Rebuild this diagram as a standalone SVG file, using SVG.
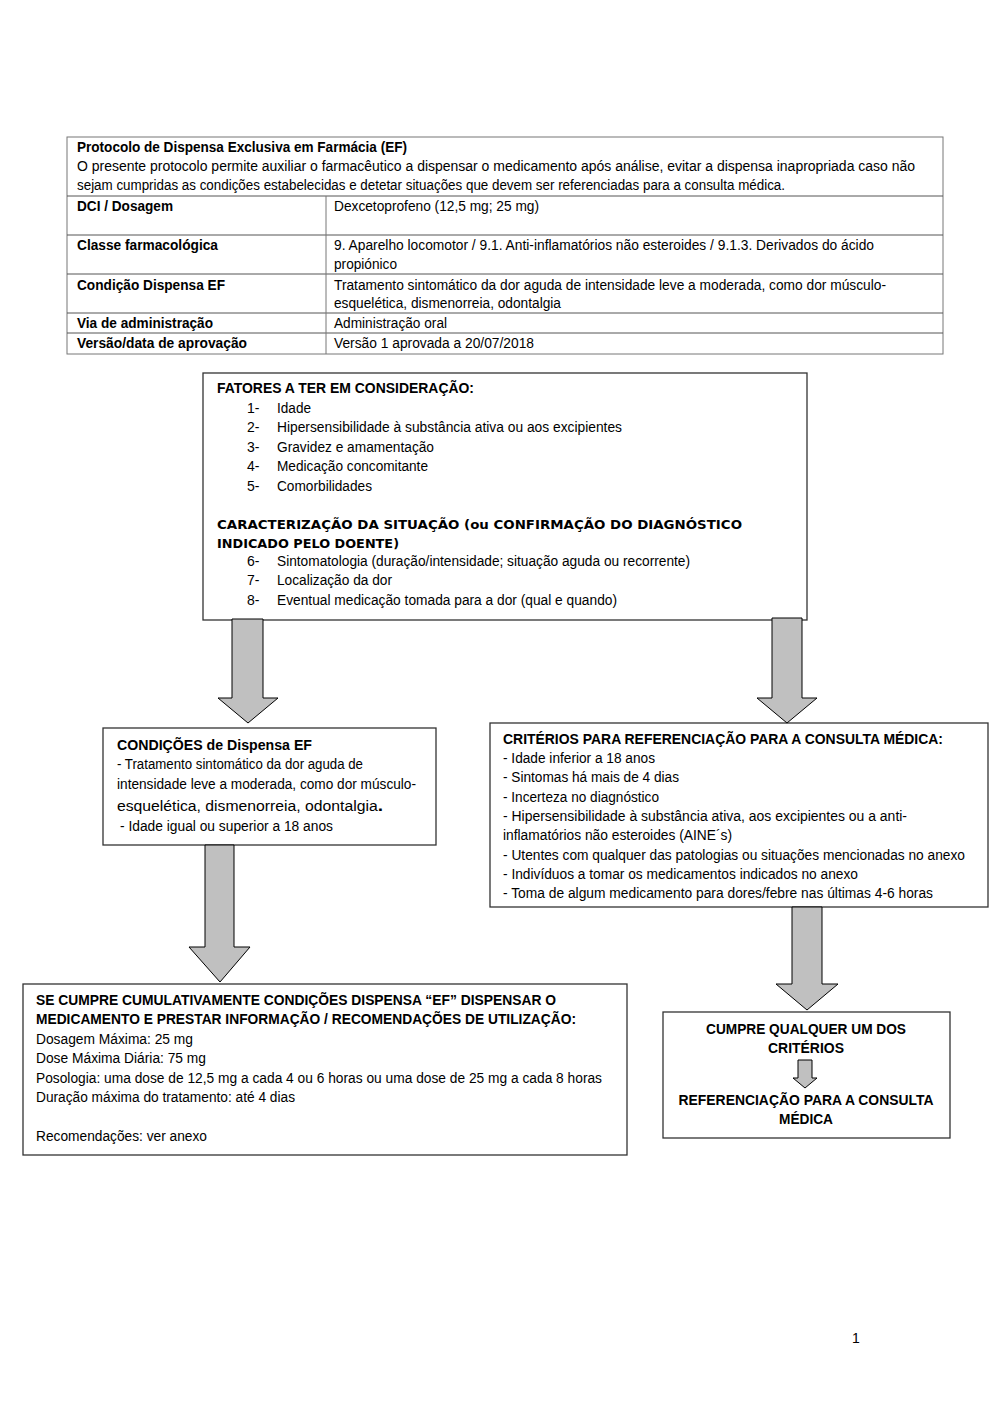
<svg xmlns="http://www.w3.org/2000/svg" width="1000" height="1414" viewBox="0 0 1000 1414">
<style>
text{font-family:"Liberation Sans",Arial,sans-serif;font-size:14px;fill:#000}
.b{font-weight:bold}
.g{font-family:"DejaVu Sans","Liberation Sans",sans-serif;font-weight:bold;font-size:13px}
.box{fill:#fff;stroke:#333;stroke-width:1.3}
.tl{stroke:#555;stroke-width:1;fill:none}
.arr{fill:#c0c0c0;stroke:#000;stroke-width:1}
.c{text-anchor:middle}
</style>
<defs>
<clipPath id="clipCrit"><rect x="490" y="723" width="498" height="183"/></clipPath>
</defs>
<rect width="1000" height="1414" fill="#fff"/>

<g id="table">
<rect class="tl" x="67" y="137" width="876" height="217" style="stroke:#777"/>
<line class="tl" x1="67" y1="196" x2="943" y2="196"/>
<line class="tl" x1="67" y1="235" x2="943" y2="235"/>
<line class="tl" x1="67" y1="274" x2="943" y2="274"/>
<line class="tl" x1="67" y1="313" x2="943" y2="313"/>
<line class="tl" x1="67" y1="333" x2="943" y2="333"/>
<line class="tl" x1="326" y1="196" x2="326" y2="354" style="stroke:#777"/>
<text class="b" x="77" y="152" textLength="330" lengthAdjust="spacingAndGlyphs">Protocolo de Dispensa Exclusiva em Farmácia (EF)</text>
<text x="77" y="171" textLength="838" lengthAdjust="spacingAndGlyphs">O presente protocolo permite auxiliar o farmacêutico a dispensar o medicamento após análise, evitar a dispensa inapropriada caso não</text>
<text x="77" y="190" textLength="708" lengthAdjust="spacingAndGlyphs">sejam cumpridas as condições estabelecidas e detetar situações que devem ser referenciadas para a consulta médica.</text>
<text class="b" x="77" y="211" textLength="96" lengthAdjust="spacingAndGlyphs">DCI / Dosagem</text>
<text x="334" y="211" textLength="205" lengthAdjust="spacingAndGlyphs">Dexcetoprofeno (12,5 mg; 25 mg)</text>
<text class="b" x="77" y="250" textLength="141" lengthAdjust="spacingAndGlyphs">Classe farmacológica</text>
<text x="334" y="250" textLength="540" lengthAdjust="spacingAndGlyphs">9. Aparelho locomotor / 9.1. Anti-inflamatórios não esteroides / 9.1.3. Derivados do ácido</text>
<text x="334" y="269" textLength="63" lengthAdjust="spacingAndGlyphs">propiónico</text>
<text class="b" x="77" y="290" textLength="148" lengthAdjust="spacingAndGlyphs">Condição Dispensa EF</text>
<text x="334" y="290" textLength="552" lengthAdjust="spacingAndGlyphs">Tratamento sintomático da dor aguda de intensidade leve a moderada, como dor músculo-</text>
<text x="334" y="308" textLength="227" lengthAdjust="spacingAndGlyphs">esquelética, dismenorreia, odontalgia</text>
<text class="b" x="77" y="328" textLength="136" lengthAdjust="spacingAndGlyphs">Via de administração</text>
<text x="334" y="328" textLength="113" lengthAdjust="spacingAndGlyphs">Administração oral</text>
<text class="b" x="77" y="348" textLength="170" lengthAdjust="spacingAndGlyphs">Versão/data de aprovação</text>
<text x="334" y="348" textLength="200" lengthAdjust="spacingAndGlyphs">Versão 1 aprovada a 20/07/2018</text>
</g>

<g id="fatores">
<rect class="box" x="203" y="373" width="604" height="247"/>
<text class="b" x="217" y="393" textLength="257" lengthAdjust="spacingAndGlyphs">FATORES A TER EM CONSIDERAÇÃO:</text>
<text x="247" y="413">1-</text><text x="277" y="413" textLength="34" lengthAdjust="spacingAndGlyphs">Idade</text>
<text x="247" y="432">2-</text><text x="277" y="432" textLength="345" lengthAdjust="spacingAndGlyphs">Hipersensibilidade à substância ativa ou aos excipientes</text>
<text x="247" y="452">3-</text><text x="277" y="452" textLength="157" lengthAdjust="spacingAndGlyphs">Gravidez e amamentação</text>
<text x="247" y="471">4-</text><text x="277" y="471" textLength="151" lengthAdjust="spacingAndGlyphs">Medicação concomitante</text>
<text x="247" y="491">5-</text><text x="277" y="491" textLength="95" lengthAdjust="spacingAndGlyphs">Comorbilidades</text>
<text class="g" x="217" y="529" textLength="525" lengthAdjust="spacingAndGlyphs">CARACTERIZAÇÃO DA SITUAÇÃO (ou CONFIRMAÇÃO DO DIAGNÓSTICO</text>
<text class="g" x="217" y="548" textLength="182" lengthAdjust="spacingAndGlyphs">INDICADO PELO DOENTE)</text>
<text x="247" y="566">6-</text><text x="277" y="566" textLength="413" lengthAdjust="spacingAndGlyphs">Sintomatologia (duração/intensidade; situação aguda ou recorrente)</text>
<text x="247" y="585">7-</text><text x="277" y="585" textLength="115" lengthAdjust="spacingAndGlyphs">Localização da dor</text>
<text x="247" y="605">8-</text><text x="277" y="605" textLength="340" lengthAdjust="spacingAndGlyphs">Eventual medicação tomada para a dor (qual e quando)</text>
</g>

<g id="condicoes">
<rect class="box" x="103" y="728" width="333" height="117"/>
<text class="b" x="117" y="750" textLength="195" lengthAdjust="spacingAndGlyphs">CONDIÇÕES de Dispensa EF</text>
<text x="117" y="769" textLength="246" lengthAdjust="spacingAndGlyphs">- Tratamento sintomático da dor aguda de</text>
<text x="117" y="789" textLength="299" lengthAdjust="spacingAndGlyphs">intensidade leve a moderada, como dor músculo-</text>
<text x="117" y="811" textLength="266" lengthAdjust="spacingAndGlyphs">esquelética, dismenorreia, odontalgia<tspan font-size="17" font-weight="bold">.</tspan></text>
<text x="120" y="831" textLength="213" lengthAdjust="spacingAndGlyphs">- Idade igual ou superior a 18 anos</text>
</g>

<g id="criterios">
<rect class="box" x="490" y="723" width="498" height="184"/>
<g clip-path="url(#clipCrit)">
<text class="b" x="503" y="744" textLength="440" lengthAdjust="spacingAndGlyphs">CRITÉRIOS PARA REFERENCIAÇÃO PARA A CONSULTA MÉDICA:</text>
<text x="503" y="763" textLength="152" lengthAdjust="spacingAndGlyphs">- Idade inferior a 18 anos</text>
<text x="503" y="782" textLength="176" lengthAdjust="spacingAndGlyphs">- Sintomas há mais de 4 dias</text>
<text x="503" y="802" textLength="156" lengthAdjust="spacingAndGlyphs">- Incerteza no diagnóstico</text>
<text x="503" y="821" textLength="404" lengthAdjust="spacingAndGlyphs">- Hipersensibilidade à substância ativa, aos excipientes ou a anti-</text>
<text x="503" y="840" textLength="229" lengthAdjust="spacingAndGlyphs">inflamatórios não esteroides (AINE´s)</text>
<text x="503" y="860" textLength="462" lengthAdjust="spacingAndGlyphs">- Utentes com qualquer das patologias ou situações mencionadas no anexo</text>
<text x="503" y="879" textLength="355" lengthAdjust="spacingAndGlyphs">- Indivíduos a tomar os medicamentos indicados no anexo</text>
<text x="503" y="898" textLength="430" lengthAdjust="spacingAndGlyphs">- Toma de algum medicamento para dores/febre nas últimas 4-6 horas</text>
</g>
</g>

<g id="dispensar">
<rect class="box" x="23" y="984" width="604" height="171"/>
<text class="b" x="36" y="1005" textLength="520" lengthAdjust="spacingAndGlyphs">SE CUMPRE CUMULATIVAMENTE CONDIÇÕES DISPENSA “EF” DISPENSAR O</text>
<text class="b" x="36" y="1024" textLength="540" lengthAdjust="spacingAndGlyphs">MEDICAMENTO E PRESTAR INFORMAÇÃO / RECOMENDAÇÕES DE UTILIZAÇÃO:</text>
<text x="36" y="1044" textLength="157" lengthAdjust="spacingAndGlyphs">Dosagem Máxima: 25 mg</text>
<text x="36" y="1063" textLength="170" lengthAdjust="spacingAndGlyphs">Dose Máxima Diária: 75 mg</text>
<text x="36" y="1083" textLength="566" lengthAdjust="spacingAndGlyphs">Posologia: uma dose de 12,5 mg a cada 4 ou 6 horas ou uma dose de 25 mg a cada 8 horas</text>
<text x="36" y="1102" textLength="259" lengthAdjust="spacingAndGlyphs">Duração máxima do tratamento: até 4 dias</text>
<text x="36" y="1141" textLength="171" lengthAdjust="spacingAndGlyphs">Recomendações: ver anexo</text>
</g>

<g id="referenciacao">
<rect class="box" x="663" y="1012" width="287" height="126"/>
<text class="b c" x="806" y="1034" textLength="200" lengthAdjust="spacingAndGlyphs">CUMPRE QUALQUER UM DOS</text>
<text class="b c" x="806" y="1053" textLength="76" lengthAdjust="spacingAndGlyphs">CRITÉRIOS</text>
<text class="b c" x="806" y="1105" textLength="255" lengthAdjust="spacingAndGlyphs">REFERENCIAÇÃO PARA A CONSULTA</text>
<text class="b c" x="806" y="1124" textLength="54" lengthAdjust="spacingAndGlyphs">MÉDICA</text>
</g>

<g id="connectors">
<polygon class="arr" points="232,619 263,619 263,698 278,698 248,723 218,698 232,698"/>
<polygon class="arr" points="772,618 802,618 802,698 817,698 787,723 757,698 772,698"/>
<polygon class="arr" points="205,845 234,845 234,947 250,947 220,982 189,947 205,947"/>
<polygon class="arr" points="792,907 822,907 822,984 838,984 807,1010 776,984 792,984"/>
<polygon class="arr" points="798,1060 812,1060 812,1078 817,1078 805,1088 793,1078 798,1078"/>
</g>

<text x="852" y="1343" font-size="12">1</text>
</svg>
